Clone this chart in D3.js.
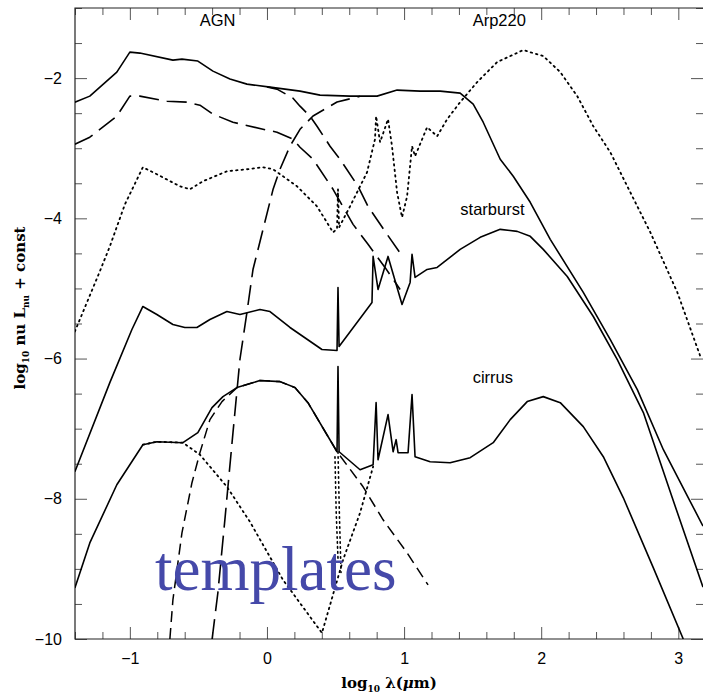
<!DOCTYPE html>
<html>
<head>
<meta charset="utf-8">
<script src="https://cdn.jsdelivr.net/npm/d3@7"></script>
<style>
  body { margin: 0; background: #fff; }
  text { font-family: "Liberation Sans", Arial, sans-serif; }
</style>
</head>
<body>
<div id="container"></div>
<script>
/* CONSTANTS AND GLOBALS */
const width = 703,
  height = 693,
  margin = { top: 8, bottom: 54, left: 75, right: 0 };

// tick values
const xMajor = [-1, 0, 1, 2, 3];
const yMajor = [-10, -8, -6, -4, -2];

// AGN + starburst composite (solid, top)
const topSolid = [[-1.401,-2.343],[-1.292,-2.257],[-1.095,-1.914],[-1.0,-1.629],[-0.927,-1.643],[-0.686,-1.743],[-0.620,-1.729],[-0.504,-1.757],[-0.394,-1.9],[-0.270,-2.014],[-0.146,-2.086],[0.022,-2.129],[0.241,-2.186],[0.387,-2.243],[0.606,-2.257],[0.803,-2.257],[0.949,-2.171],[1.117,-2.186],[1.263,-2.186],[1.336,-2.2],[1.409,-2.214],[1.504,-2.371],[1.577,-2.629],[1.701,-3.157],[1.796,-3.4],[1.920,-3.771],[2.066,-4.3],[2.307,-5.057],[2.504,-5.729],[2.701,-6.443],[2.891,-7.3],[3.073,-7.986],[3.18,-8.39]];

// AGN long dashed (upper branch)
const agnUpper = [[0.0,-2.125],[0.073,-2.157],[0.190,-2.286],[0.241,-2.4],[0.314,-2.543],[0.365,-2.686],[0.460,-2.971],[0.533,-3.157],[0.664,-3.543],[0.737,-3.829],[0.861,-4.186],[0.993,-4.557]];

// AGN long dashed (lower copy)
const agnLower = [[-1.401,-2.943],[-1.292,-2.843],[-1.095,-2.543],[-1.0,-2.257],[-0.927,-2.257],[-0.730,-2.329],[-0.584,-2.343],[-0.489,-2.386],[-0.394,-2.514],[-0.248,-2.629],[-0.029,-2.729],[0.073,-2.771],[0.190,-2.871],[0.241,-2.986],[0.336,-3.157],[0.482,-3.586],[0.628,-4.086],[0.737,-4.371],[0.861,-4.7],[0.971,-5.014]];

// starburst component rising from the bottom (long dashed)
const sbRise = [[-0.40,-10.0],[-0.358,-9.34],[-0.307,-8.3],[-0.248,-7.06],[-0.197,-6.01],[-0.146,-5.34],[-0.102,-4.73],[0.044,-3.59],[0.095,-3.3],[0.168,-2.97],[0.241,-2.73],[0.336,-2.54],[0.511,-2.34],[0.679,-2.26]];

// Arp220 (dotted)
const arp220 = [[-1.401,-5.614],[-1.219,-4.757],[-1.146,-4.4],[-1.036,-3.8],[-0.905,-3.271],[-0.803,-3.371],[-0.635,-3.543],[-0.562,-3.586],[-0.467,-3.471],[-0.292,-3.329],[-0.146,-3.3],[-0.029,-3.271],[0.044,-3.3],[0.117,-3.4],[0.219,-3.543],[0.365,-3.829],[0.482,-4.2],[0.511,-4.15],[0.518,-3.586],[0.526,-4.129],[0.606,-3.829],[0.730,-3.343],[0.788,-2.871],[0.796,-2.543],[0.825,-2.914],[0.883,-2.586],[0.912,-2.971],[0.949,-3.629],[0.985,-3.986],[1.022,-3.686],[1.058,-2.971],[1.080,-3.114],[1.168,-2.7],[1.241,-2.829],[1.314,-2.586],[1.409,-2.343],[1.533,-2.057],[1.679,-1.771],[1.869,-1.6],[2.015,-1.686],[2.139,-1.914],[2.263,-2.257],[2.380,-2.686],[2.504,-3.057],[2.650,-3.629],[2.796,-4.2],[2.993,-5.057],[3.161,-5.971]];

// starburst (solid, middle)
const starburst = [[-1.401,-7.614],[-1.146,-6.343],[-0.985,-5.586],[-0.905,-5.257],[-0.803,-5.371],[-0.686,-5.514],[-0.599,-5.557],[-0.511,-5.557],[-0.416,-5.443],[-0.292,-5.329],[-0.197,-5.371],[-0.051,-5.3],[0.022,-5.329],[0.168,-5.557],[0.401,-5.871],[0.511,-5.886],[0.518,-4.986],[0.526,-5.829],[0.766,-5.2],[0.774,-4.543],[0.810,-5.014],[0.883,-4.543],[0.985,-5.229],[1.044,-4.914],[1.058,-4.514],[1.080,-4.843],[1.168,-4.729],[1.241,-4.7],[1.409,-4.443],[1.555,-4.271],[1.701,-4.157],[1.825,-4.186],[1.920,-4.257],[2.015,-4.443],[2.190,-4.829],[2.380,-5.4],[2.555,-6.014],[2.745,-6.771],[2.956,-7.986],[3.18,-9.26]];

// cirrus composite (solid, bottom)
const cirrus = [[-1.401,-9.271],[-1.292,-8.629],[-1.095,-7.8],[-0.905,-7.229],[-0.803,-7.186],[-0.613,-7.2],[-0.504,-7.057],[-0.401,-6.7],[-0.321,-6.543],[-0.219,-6.414],[-0.051,-6.314],[0.095,-6.329],[0.204,-6.414],[0.299,-6.629],[0.511,-7.329],[0.518,-6.114],[0.526,-7.329],[0.679,-7.586],[0.774,-7.514],[0.796,-6.629],[0.810,-7.443],[0.883,-6.8],[0.920,-7.329],[0.942,-7.157],[0.956,-7.343],[1.029,-7.343],[1.058,-6.514],[1.080,-7.4],[1.190,-7.471],[1.336,-7.486],[1.482,-7.414],[1.650,-7.2],[1.774,-6.871],[1.898,-6.614],[2.015,-6.543],[2.139,-6.629],[2.307,-6.971],[2.453,-7.4],[2.599,-7.986],[2.818,-8.986],[3.036,-10.0]];

// cold dust component (short dashed)
const coldDust = [[-0.708,-10.0],[-0.686,-9.443],[-0.620,-8.486],[-0.547,-7.771],[-0.489,-7.343],[-0.416,-6.871],[-0.328,-6.614],[-0.219,-6.414],[-0.051,-6.314],[0.095,-6.329],[0.204,-6.414],[0.299,-6.629],[0.511,-7.329],[0.701,-7.829],[0.847,-8.3],[1.022,-8.771],[1.175,-9.229]];

// stellar component (dotted, bottom V)
const stellar = [[-0.905,-7.229],[-0.803,-7.186],[-0.613,-7.2],[-0.489,-7.371],[-0.292,-7.829],[-0.124,-8.329],[0.117,-9.157],[0.401,-9.914],[0.555,-8.871],[0.679,-8.2],[0.774,-7.543]];
const stellarSpikeA = [[0.496,-7.40],[0.505,-8.2],[0.518,-8.85]];
const stellarSpikeB = [[0.518,-7.33],[0.528,-8.2],[0.540,-9.05]];

const labels = [
  { text: "AGN", x: -0.49, y: -1.25 },
  { text: "Arp220", x: 1.5, y: -1.25 },
  { text: "starburst", x: 1.41, y: -3.95 },
  { text: "cirrus", x: 1.50, y: -6.35 }
];

const svg = d3.select("#container")
  .append("svg")
  .attr("width", width)
  .attr("height", height);

// SCALES
const x = d3.scaleLinear().domain([-1.4, 3.18]).range([margin.left, width]);
const y = d3.scaleLinear().domain([-10, -1]).range([height - margin.bottom, margin.top]);

const xMinor = d3.range(-1.4, 3.2, 0.2).map(v => +v.toFixed(1)).filter(v => !xMajor.includes(v));
const yMinor = d3.range(-10, -0.9, 0.5).filter(v => !yMajor.includes(v));

// AXES (ticks point inward)
const axisColor = "#555";
function styleAxis(g) {
  g.select(".domain").remove();
  g.selectAll("line").attr("stroke", axisColor);
  g.selectAll("text").attr("fill", "#000").style("font-size", "16px")
    .style("font-family", "'Liberation Sans', Arial, sans-serif");
}

const y0 = y(-10);
svg.append("g").attr("transform", `translate(0,${y0})`)
  .call(d3.axisBottom(x).tickValues(xMajor).tickSize(-12).tickPadding(14).tickFormat(d3.format("d")))
  .call(styleAxis);
svg.append("g").attr("transform", `translate(0,${y0})`)
  .call(d3.axisBottom(x).tickValues(xMinor).tickSize(-7).tickFormat(""))
  .call(styleAxis);
svg.append("g").attr("transform", `translate(0,${margin.top})`)
  .call(d3.axisTop(x).tickValues(xMajor).tickSize(-12).tickFormat(""))
  .call(styleAxis);
svg.append("g").attr("transform", `translate(0,${margin.top})`)
  .call(d3.axisTop(x).tickValues(xMinor).tickSize(-7).tickFormat(""))
  .call(styleAxis);
svg.append("g").attr("transform", `translate(${margin.left},0)`)
  .call(d3.axisLeft(y).tickValues(yMajor).tickSize(-12).tickPadding(13).tickFormat(d3.format("d")))
  .call(styleAxis);
svg.append("g").attr("transform", `translate(${margin.left},0)`)
  .call(d3.axisLeft(y).tickValues(yMinor).tickSize(-7).tickFormat(""))
  .call(styleAxis);
svg.append("g").attr("transform", `translate(${x(3.18)},0)`)
  .call(d3.axisRight(y).tickValues(yMajor).tickSize(-12).tickFormat(""))
  .call(styleAxis);
svg.append("g").attr("transform", `translate(${x(3.18)},0)`)
  .call(d3.axisRight(y).tickValues(yMinor).tickSize(-7).tickFormat(""))
  .call(styleAxis);

// FRAME
svg.append("path")
  .attr("d", `M${x(3.18)},${margin.top}H${margin.left}V${y0}H${x(3.18)}`)
  .attr("fill", "none")
  .attr("stroke", "#222")
  .attr("stroke-width", 1.2);

// CLIP
svg.append("clipPath").attr("id", "plot-clip")
  .append("rect")
  .attr("x", margin.left).attr("y", margin.top)
  .attr("width", x(3.18) - margin.left).attr("height", y0 - margin.top);

const lineGen = d3.line().x(d => x(d[0])).y(d => y(d[1]));
const plot = svg.append("g").attr("clip-path", "url(#plot-clip)");

const curves = [
  { data: topSolid, dash: null, w: 1.6 },
  { data: agnUpper, dash: "20,8", w: 1.6 },
  { data: agnLower, dash: "20,8", w: 1.6 },
  { data: sbRise, dash: "20,8", w: 1.6 },
  { data: arp220, dash: "1.5,4", w: 1.8, cap: "round" },
  { data: starburst, dash: null, w: 1.6 },
  { data: cirrus, dash: null, w: 1.6 },
  { data: coldDust, dash: "11,6", w: 1.5 },
  { data: stellar, dash: "1.5,4", w: 1.8, cap: "round" },
  { data: stellarSpikeA, dash: "1.5,3.5", w: 1.6, cap: "round" },
  { data: stellarSpikeB, dash: "1.5,3.5", w: 1.6, cap: "round" }
];

plot.selectAll("path.sed")
  .data(curves)
  .join("path")
  .attr("class", "sed")
  .attr("d", d => lineGen(d.data))
  .attr("fill", "none")
  .attr("stroke", "#000")
  .attr("stroke-width", d => d.w)
  .attr("stroke-linejoin", "round")
  .attr("stroke-linecap", d => d.cap || "butt")
  .attr("stroke-dasharray", d => d.dash);

// CURVE LABELS
svg.selectAll("text.curve-label")
  .data(labels)
  .join("text")
  .attr("class", "curve-label")
  .attr("x", d => x(d.x))
  .attr("y", d => y(d.y))
  .style("font-size", "16.5px")
  .attr("fill", "#000")
  .text(d => d.text);

// BIG BLUE WORD
svg.append("text")
  .attr("x", 155)
  .attr("y", 590)
  .style("font-family", "'Liberation Serif', 'Times New Roman', serif")
  .style("font-size", "63px")
  .attr("fill", "#4549a9")
  .text("templates");

// AXIS TITLES
const titleFont = "'DejaVu Serif', 'Liberation Serif', serif";
const xTitle = svg.append("text")
  .attr("x", 389)
  .attr("y", 688)
  .attr("text-anchor", "middle")
  .style("font-family", titleFont)
  .style("font-weight", "bold")
  .style("font-size", "15px");
xTitle.append("tspan").text("log");
xTitle.append("tspan").attr("dy", 4).style("font-size", "9px").text("10");
xTitle.append("tspan").attr("dy", -4).text(" λ(");
xTitle.append("tspan").style("font-style", "italic").text("μ");
xTitle.append("tspan").text("m)");

const yTitle = svg.append("text")
  .attr("transform", "translate(25,308) rotate(-90)")
  .attr("text-anchor", "middle")
  .style("font-family", titleFont)
  .style("font-weight", "bold")
  .style("font-size", "15px");
yTitle.append("tspan").text("log");
yTitle.append("tspan").attr("dy", 4).style("font-size", "9px").text("10");
yTitle.append("tspan").attr("dy", -4).text(" nu L");
yTitle.append("tspan").attr("dy", 4).style("font-size", "9px").text("nu");
yTitle.append("tspan").attr("dy", -4).text(" + const");
</script>
</body>
</html>
